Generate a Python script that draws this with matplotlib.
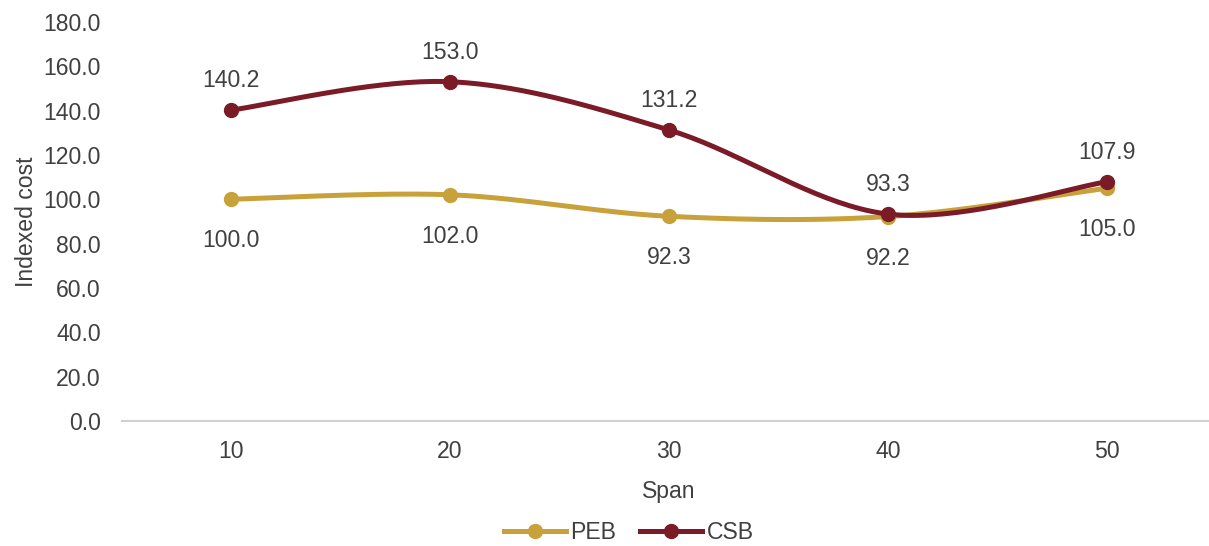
import numpy as np
import matplotlib.pyplot as plt

plt.rcParams['font.family'] = ['Liberation Sans', 'DejaVu Sans']

# data
spans = [10, 20, 30, 40, 50]
peb = [100.0, 102.0, 92.3, 92.2, 105.0]
csb = [140.2, 153.0, 131.2, 93.3, 107.9]
y_ticks = [0, 20, 40, 60, 80, 100, 120, 140, 160, 180]

PEB_COLOR = '#C9A13B'
CSB_COLOR = '#7B1B28'
TEXT_COLOR = '#404040'
FS = 16.6


def smooth(xs, ys, n=40):
    # Excel-style smoothed line: cubic bezier with catmull-rom control points
    pts = np.column_stack([xs, ys]).astype(float)
    padded = np.vstack([pts[0], pts, pts[-1]])
    out = []
    t = np.linspace(0, 1, n)[:, None]
    for i in range(1, len(padded) - 2):
        p0, p1, p2, p3 = padded[i - 1], padded[i], padded[i + 1], padded[i + 2]
        c1 = p1 + (p2 - p0) / 6
        c2 = p2 - (p3 - p1) / 6
        seg = ((1 - t) ** 3) * p1 + 3 * ((1 - t) ** 2) * t * c1 + 3 * (1 - t) * t ** 2 * c2 + t ** 3 * p2
        out.append(seg if i == 1 else seg[1:])
    seg = np.vstack(out)
    return seg[:, 0], seg[:, 1]


fig = plt.figure(figsize=(12.09, 5.46), dpi=100)
ax = fig.add_axes([0.1005, 0.229, 0.906, 0.731])

for vals, color, name in [(peb, PEB_COLOR, 'PEB'), (csb, CSB_COLOR, 'CSB')]:
    sx, sy = smooth(spans, vals)
    ax.plot(sx, sy, color=color, lw=3.6, solid_capstyle='round', zorder=2)
    ax.plot(spans, vals, 'o', color=color, ms=10, zorder=3)
    ax.plot([], [], color=color, lw=3.6, marker='o', ms=10, label=name)

for x, v in zip(spans, csb):
    ax.annotate(f'{v:.1f}', (x, v), xytext=(0, 21), textcoords='offset points',
                ha='center', va='center', fontsize=FS, color=TEXT_COLOR)
for x, v in zip(spans, peb):
    ax.annotate(f'{v:.1f}', (x, v), xytext=(0, -30), textcoords='offset points',
                ha='center', va='center', fontsize=FS, color=TEXT_COLOR)

ax.set_xlim(5, 55)
ax.set_ylim(0, 180)
ax.set_xticks(spans)
ax.set_yticks(y_ticks)
ax.set_yticklabels([f'{v:.1f}' for v in y_ticks])
ax.tick_params(axis='both', length=0, labelsize=FS, colors=TEXT_COLOR)
ax.tick_params(axis='x', pad=14)
ax.tick_params(axis='y', pad=15)

for side in ['top', 'right', 'left']:
    ax.spines[side].set_visible(False)
ax.spines['bottom'].set_color('#D0D0D0')
ax.spines['bottom'].set_linewidth(1.5)

ax.set_xlabel('Span', fontsize=FS, color=TEXT_COLOR, labelpad=12)
ax.set_ylabel('Indexed cost', fontsize=FS, color=TEXT_COLOR, labelpad=4)

fig.legend(loc='center', bbox_to_anchor=(0.52, 0.025), ncol=2, frameon=False,
           fontsize=FS, labelcolor=TEXT_COLOR, handlelength=2.7, handletextpad=0.2,
           columnspacing=1.0)

fig.savefig('out.png', dpi=100)
